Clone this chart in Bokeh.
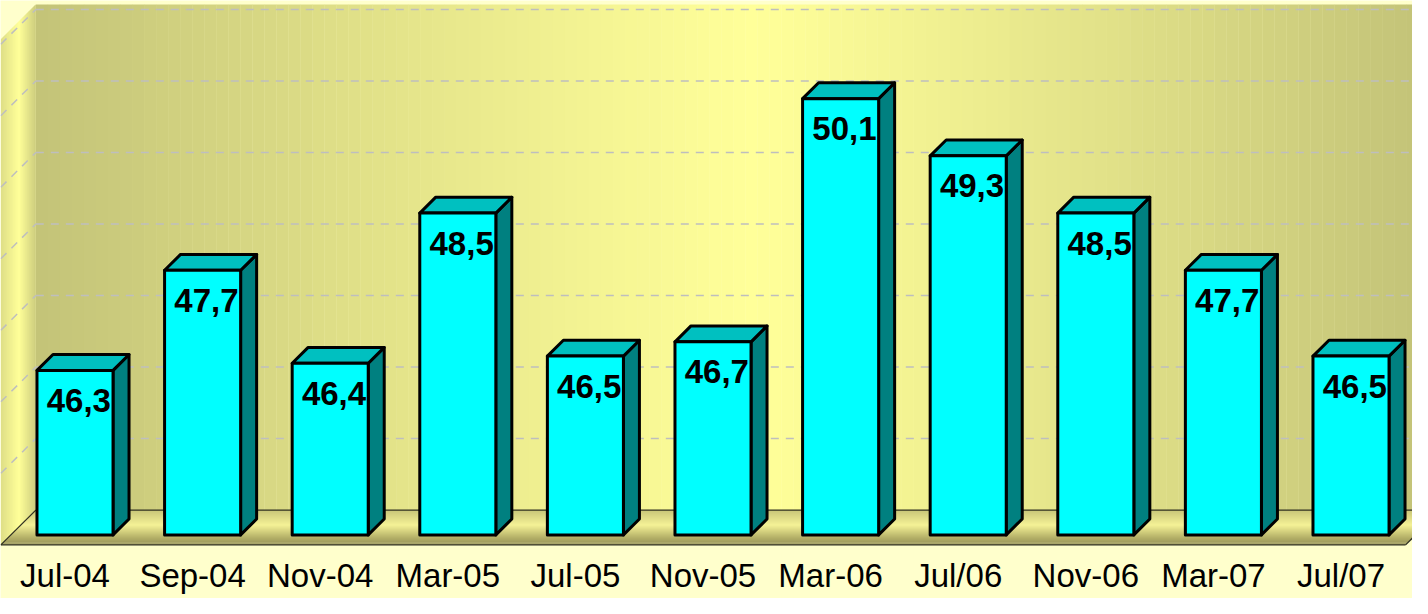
import numpy as np
from bokeh.plotting import figure
from bokeh.models import Range1d, ColumnDataSource
from bokeh.embed import file_html
from bokeh.resources import INLINE
from bokeh.core.properties import value

# ---- data ----
categories = ["Jul-04", "Sep-04", "Nov-04", "Mar-05", "Jul-05", "Nov-05",
              "Mar-06", "Jul/06", "Nov-06", "Mar-07", "Jul/07"]
values = [46.3, 47.7, 46.4, 48.5, 46.5, 46.7, 50.1, 49.3, 48.5, 47.7, 46.5]
grid_values = [45, 46, 47, 48, 49, 50, 51]
base_value = 44.0
wall_top_value = 51.07
label_value = 43.572            # baseline of the category labels (value units)

# ---- pseudo-3D geometry (pixels of depth -> data units) ----
PPX, PPY = 127.6, 72.0          # px per category unit / per value unit
D_BAR_FRONT, D_BAR_BACK, D_WALL = 10.0, 26.0, 35.0
HALF_W = 0.298                  # half width of bar front face (category units)
X0, X1 = -0.503, 10.506         # left / right ends of the floor


def proj(x, v, d):
    return x + d / PPX, v + d / PPY


def rgb(c):
    return "#%02x%02x%02x" % tuple(int(round(max(0, min(255, k)))) for k in c)


def lerp(a, b, t):
    return tuple(a[i] + (b[i] - a[i]) * t for i in range(3))


p = figure(width=1412, height=598,
           x_range=Range1d(-0.5055, 10.5603), y_range=Range1d(43.25, 51.611),
           output_backend="svg", toolbar_location=None,
           x_axis_location=None, y_axis_location=None,
           min_border_left=0, min_border_right=0, min_border_top=0,
           min_border_bottom=0,
           background_fill_color="#FFFFCC", border_fill_color="#FFFFCC",
           outline_line_color=None)
p.xgrid.visible = False
p.ygrid.visible = False

# ---- back wall (horizontal gradient) ----
edge_c, mid_c = (195, 195, 120), (255, 255, 153)
wall_left = X0 + D_WALL / PPX
wall_right = X1 + D_WALL / PPX + 0.3
n = 120
edges = np.linspace(wall_left, wall_right, n + 1)
lefts, rights, cols = [], [], []
for a, b in zip(edges[:-1], edges[1:]):
    X = 72.5 + PPX * (a + b) / 2
    if X < 760:
        t = (760 - X) / (760 - 42)
    else:
        t = (X - 760) / (1428 - 760)
    t = min(1.0, max(0.0, t)) ** 1.1
    lefts.append(a)
    rights.append(b + 0.002)
    cols.append(rgb(lerp(mid_c, edge_c, t)))
wb, wt = proj(0, base_value, D_WALL)[1], proj(0, wall_top_value, D_WALL)[1]
p.quad(left=lefts, right=rights, bottom=wb, top=wt, fill_color=cols, line_color=None)

# ---- left wall (gradient along depth) ----
lw_stops = [(0, (222, 222, 134)), (18, (255, 255, 153)), (35, (205, 205, 126))]


def stop_color(stops, d):
    for (d1, c1), (d2, c2) in zip(stops[:-1], stops[1:]):
        if d1 <= d <= d2:
            return lerp(c1, c2, (d - d1) / (d2 - d1))
    return stops[-1][1]


xs, ys, cs = [], [], []
ds = np.linspace(0, D_WALL, 36)
for da, db in zip(ds[:-1], ds[1:]):
    db2 = min(D_WALL, db + 0.3)
    pts = [proj(X0, base_value, da), proj(X0, base_value, db2),
           proj(X0, wall_top_value, db2), proj(X0, wall_top_value, da)]
    xs.append([q[0] for q in pts])
    ys.append([q[1] for q in pts])
    cs.append(rgb(stop_color(lw_stops, (da + db) / 2)))
p.patches(xs, ys, fill_color=cs, line_color=None)

# ---- gridlines ----
gx0, gy0, gx1, gy1 = [], [], [], []
for g in grid_values:
    a = proj(X0, g, D_WALL)
    b = proj(X1 + 0.3, g, D_WALL)
    gx0.append(a[0]); gy0.append(a[1]); gx1.append(b[0]); gy1.append(b[1])
    c = proj(X0, g, 0)
    gx0.append(c[0]); gy0.append(c[1]); gx1.append(a[0]); gy1.append(a[1])
p.segment(gx0, gy0, gx1, gy1, line_color="#BEBEBE", line_width=1.5, line_dash="8 7")

# ---- floor (gradient along depth) ----
fl_stops = [(0, (150, 146, 88)), (7, (178, 174, 102)), (20, (245, 242, 150)),
            (30, (214, 211, 130)), (35, (200, 198, 120))]
xs, ys, cs = [], [], []
ds = np.linspace(0, D_WALL, 36)
for da, db in zip(ds[:-1], ds[1:]):
    db2 = min(D_WALL, db + 0.3)
    pts = [proj(X0, base_value, da), proj(X1, base_value, da),
           proj(X1, base_value, db2), proj(X0, base_value, db2)]
    xs.append([q[0] for q in pts])
    ys.append([q[1] for q in pts])
    cs.append(rgb(stop_color(fl_stops, (da + db) / 2)))
p.patches(xs, ys, fill_color=cs, line_color=None)

fx0, fy0, fx1, fy1 = [], [], [], []
for (xa, da), (xb, db) in [((X0, 0), (X1, 0)), ((X0, 0), (X0, D_WALL)),
                           ((X1, 0), (X1, D_WALL)), ((X0, D_WALL), (X1, D_WALL))]:
    a = proj(xa, base_value, da)
    b = proj(xb, base_value, db)
    fx0.append(a[0]); fy0.append(a[1]); fx1.append(b[0]); fy1.append(b[1])
p.segment(fx0, fy0, fx1, fy1, line_color="#2f2f20", line_width=1.3)

# ---- bars ----
front_xs, front_ys, top_xs, top_ys, side_xs, side_ys = [], [], [], [], [], []
for i, v in enumerate(values):
    l, r = i - HALF_W, i + HALF_W
    f = [proj(l, base_value, D_BAR_FRONT), proj(r, base_value, D_BAR_FRONT),
         proj(r, v, D_BAR_FRONT), proj(l, v, D_BAR_FRONT)]
    t = [proj(l, v, D_BAR_FRONT), proj(r, v, D_BAR_FRONT),
         proj(r, v, D_BAR_BACK), proj(l, v, D_BAR_BACK)]
    s = [proj(r, base_value, D_BAR_FRONT), proj(r, base_value, D_BAR_BACK),
         proj(r, v, D_BAR_BACK), proj(r, v, D_BAR_FRONT)]
    for pts, XS, YS in [(f, front_xs, front_ys), (t, top_xs, top_ys), (s, side_xs, side_ys)]:
        XS.append([q[0] for q in pts])
        YS.append([q[1] for q in pts])

p.patches(side_xs, side_ys, fill_color="#008080", line_color="black", line_width=3, line_join="round")
p.patches(top_xs, top_ys, fill_color="#00C0C0", line_color="black", line_width=3, line_join="round")
p.patches(front_xs, front_ys, fill_color="#00FFFF", line_color="black", line_width=3, line_join="round")

# ---- value labels ----
lab_src = ColumnDataSource(dict(
    x=[proj(i, v, D_BAR_FRONT)[0] + 0.03 for i, v in enumerate(values)],
    y=[proj(i, v, D_BAR_FRONT)[1] for i, v in enumerate(values)],
    t=[("%.1f" % v).replace(".", ",") for v in values]))
p.text(x="x", y="y", text="t", source=lab_src, text_align="center",
       text_baseline="alphabetic", y_offset=30, text_font=value("Liberation Sans"),
       text_font_style="bold", text_font_size="33px", text_color="black")

# ---- category labels (x axis) ----
cat_src = ColumnDataSource(dict(x=list(range(len(categories))),
                                y=[label_value] * len(categories),
                                t=categories))
p.text(x="x", y="y", text="t", source=cat_src, text_align="center",
       text_baseline="alphabetic", text_font=value("Liberation Sans"),
       text_font_size="33px", text_color="black")

open("out.html", "w").write(file_html(p, INLINE))
